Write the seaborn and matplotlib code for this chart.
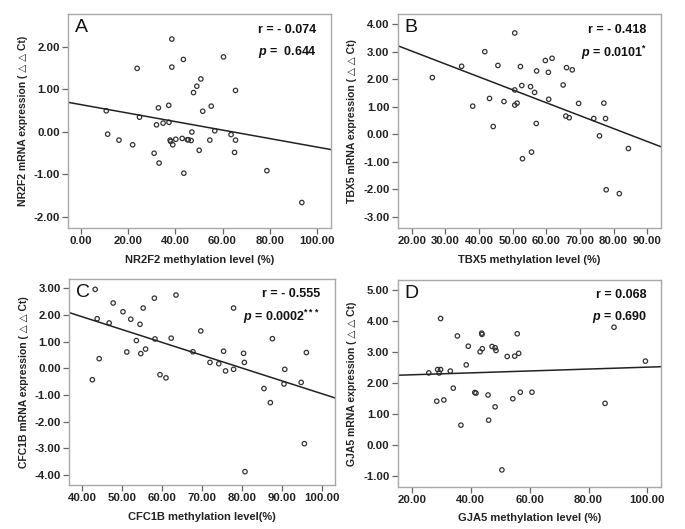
import numpy as np
import pandas as pd
import seaborn as sns
import matplotlib.pyplot as plt
from matplotlib.ticker import FormatStrFormatter

# panel A - NR2F2
nr2f2_meth = [10.7, 11.3, 16.1, 21.9, 23.8, 24.8, 31.0, 32.0, 32.8, 33.1, 34.8, 37.2, 37.3, 37.8,
              38.0, 38.5, 38.5, 38.9, 40.2, 42.9, 43.4, 43.6, 45.1, 45.5, 46.7, 47.0, 47.7, 49.1,
              50.1, 50.8, 51.6, 54.6, 55.2, 56.7, 60.4, 63.6, 65.1, 65.5, 65.5, 78.8, 93.6]
nr2f2_expr = [0.49, -0.06, -0.20, -0.31, 1.49, 0.34, -0.51, 0.16, 0.56, -0.74, 0.20, 0.62, 0.22, -0.20,
              -0.23, 2.18, 1.52, -0.31, -0.18, -0.16, 1.70, -0.98, -0.19, -0.19, -0.21, -0.01, 0.92, 1.07,
              -0.44, 1.24, 0.48, -0.20, 0.60, 0.02, 1.76, -0.07, -0.49, 0.97, -0.20, -0.92, -1.67]

# panel B - TBX5
tbx5_meth = [26.1, 34.8, 38.1, 41.7, 43.1, 44.2, 45.6, 47.4, 50.6, 50.6, 50.6, 51.3, 52.3, 52.7,
             52.9, 55.3, 55.6, 56.5, 57.0, 57.1, 59.7, 60.6, 60.7, 61.7, 65.0, 65.8, 66.0, 66.8,
             67.7, 69.6, 74.1, 75.8, 77.1, 77.6, 77.8, 81.7, 84.4]
tbx5_expr = [2.07, 2.48, 1.03, 3.01, 1.31, 0.29, 2.51, 1.20, 3.69, 1.62, 1.07, 1.14, 2.47, 1.78,
             -0.88, 1.74, -0.64, 1.53, 0.40, 2.31, 2.69, 2.26, 1.28, 2.77, 1.80, 0.67, 2.43, 0.61,
             2.35, 1.13, 0.58, -0.05, 1.14, 0.58, -2.01, -2.15, -0.51]

# panel C - CFC1B
cfc1b_meth = [42.6, 43.3, 43.8, 44.3, 46.8, 47.8, 50.25, 51.2, 52.2, 53.6, 54.5, 54.7, 55.3, 55.9,
              58.1, 58.25, 59.5, 61.0, 62.3, 63.5, 67.75, 69.7, 72.0, 74.2, 75.4, 75.9, 77.9, 77.9,
              80.4, 80.6, 80.75, 85.5, 87.1, 87.6, 90.5, 90.7, 94.8, 95.6, 96.1]
cfc1b_expr = [-0.43, 2.96, 1.86, 0.36, 1.70, 2.45, 2.12, 0.61, 1.84, 1.04, 1.65, 0.55, 2.26, 0.72,
              2.63, 1.10, -0.24, -0.36, 1.13, 2.75, 0.62, 1.40, 0.22, 0.17, 0.64, -0.10, 2.26, -0.04,
              0.56, 0.22, -3.88, -0.76, -1.29, 1.11, -0.59, -0.04, -0.53, -2.83, 0.59]

# panel D - GJA5
gja5_meth = [25.8, 28.5, 28.8, 29.3, 29.8, 29.8, 30.9, 33.1, 34.1, 35.5, 36.7, 38.5, 39.2, 41.4,
             41.8, 43.2, 43.75, 43.85, 43.95, 45.9, 46.1, 47.25, 48.3, 48.6, 48.3, 50.6, 52.4, 54.3,
             54.95, 55.8, 56.3, 56.85, 60.8, 85.6, 88.65, 99.3]
gja5_expr = [2.32, 1.41, 2.43, 2.32, 2.43, 4.07, 1.45, 2.38, 1.83, 3.51, 0.64, 2.58, 3.18, 1.69,
             1.67, 3.00, 3.60, 3.56, 3.10, 1.61, 0.80, 3.17, 3.13, 3.04, 1.23, -0.80, 2.85, 1.49,
             2.86, 3.58, 2.95, 1.70, 1.70, 1.34, 3.79, 2.70]

panels = [
    dict(x=nr2f2_meth, y=nr2f2_expr, gene='NR2F2', letter='A', r='r = - 0.074', p=r'$p$ =  0.644',
         xlabel='NR2F2 methylation level (%)', xticks=np.arange(0, 101, 20), yticks=np.arange(-2, 3, 1),
         xlim=(-5.5, 106), ylim=(-2.27, 2.77), pos=[0.0993, 0.569, 0.384, 0.4045]),
    dict(x=tbx5_meth, y=tbx5_expr, gene='TBX5', letter='B', r='r = - 0.418', p=r'$p$ = 0.0101$^{*}$',
         xlabel='TBX5 methylation level (%)', xticks=np.arange(20, 91, 10), yticks=np.arange(-3, 5, 1),
         xlim=(15.8, 94.1), ylim=(-3.40, 4.38), pos=[0.5806, 0.569, 0.3844, 0.4045]),
    dict(x=cfc1b_meth, y=cfc1b_expr, gene='CFC1B', letter='C', r='r = - 0.555', p=r'$p$ = 0.0002$^{***}$',
         xlabel='CFC1B methylation level(%)', xticks=np.arange(40, 101, 10), yticks=np.arange(-4, 4, 1),
         xlim=(36.75, 103.25), ylim=(-4.38, 3.35), pos=[0.1007, 0.0832, 0.3883, 0.3894]),
    dict(x=gja5_meth, y=gja5_expr, gene='GJA5', letter='D', r='r = 0.068', p=r'$p$ = 0.690',
         xlabel='GJA5 methylation level (%)', xticks=np.arange(20, 101, 20), yticks=np.arange(-1, 6, 1),
         xlim=(15.25, 104.6), ylim=(-1.34, 5.31), pos=[0.5806, 0.080, 0.3844, 0.3907]),
]

sns.set_style("white")
plt.rcParams['font.family'] = ['Liberation Sans', 'DejaVu Sans']
plt.rcParams['mathtext.fontset'] = 'custom'
plt.rcParams['mathtext.it'] = 'Liberation Sans:italic:bold'
plt.rcParams['mathtext.rm'] = 'Liberation Sans:bold'

fig = plt.figure(figsize=(6.85, 5.29), dpi=100)

for pn in panels:
    ax = fig.add_axes(pn['pos'])
    df = pd.DataFrame({'meth': pn['x'], 'expr': pn['y']})
    ax.set_xlim(*pn['xlim'])
    ax.set_ylim(*pn['ylim'])
    sns.regplot(data=df, x='meth', y='expr', ax=ax, scatter=False, ci=None, truncate=False,
                line_kws=dict(color='#222222', lw=1.1))
    sns.scatterplot(data=df, x='meth', y='expr', ax=ax, marker='o', s=10,
                    facecolor='none', edgecolor='#333333', linewidth=0.9)
    ax.set_xlim(*pn['xlim'])
    ax.set_ylim(*pn['ylim'])
    ax.set_xticks(pn['xticks'])
    ax.set_yticks(pn['yticks'])
    ax.xaxis.set_major_formatter(FormatStrFormatter('%.2f'))
    ax.yaxis.set_major_formatter(FormatStrFormatter('%.2f'))
    ax.tick_params(bottom=True, left=True, direction='out', length=4, width=0.9, color='#666666',
                   labelsize=8.2, labelcolor='#222222', pad=2)
    for lab in ax.get_xticklabels() + ax.get_yticklabels():
        lab.set_fontweight('bold')
    for sp in ax.spines.values():
        sp.set_color('#a8a8a8')
        sp.set_linewidth(1.0)
    ax.set_xlabel(pn['xlabel'], fontsize=8, fontweight='bold', color='#222222', labelpad=6)
    ax.set_ylabel(pn['gene'] + ' mRNA expression ( \u25b3 \u25b3 Ct)', fontsize=7.5,
                  fontweight='bold', color='#222222', labelpad=4)
    ax.text(0.025, 0.975, pn['letter'], transform=ax.transAxes, fontsize=14, va='top', ha='left',
            color='#111111')
    ax.text(0.945, 0.955, pn['r'], transform=ax.transAxes, fontsize=9, fontweight='bold',
            va='top', ha='right', color='#111111')
    ax.text(0.945, 0.86, pn['p'], transform=ax.transAxes, fontsize=9, fontweight='bold',
            va='top', ha='right', color='#111111')

fig.savefig('out.png', dpi=100)
